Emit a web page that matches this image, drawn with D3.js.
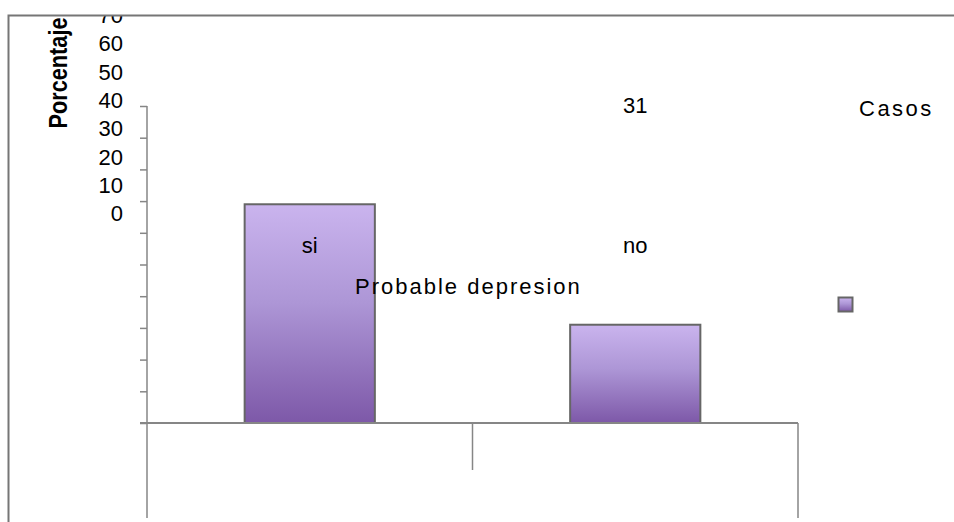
<!DOCTYPE html>
<html>
<head>
<meta charset="utf-8">
<script src="https://cdn.jsdelivr.net/npm/d3@7/dist/d3.min.js"></script>
<style>
  html, body { margin: 0; padding: 0; background: #fff; }
  svg { display: block; }
  text { font-family: Arial, "Liberation Sans", sans-serif; fill: #000; }
</style>
</head>
<body>
<svg id="chart" width="954" height="522"></svg>
<script>
// Chart data
const categories = ["si", "no"];
const casos = [69, 31];
const seriesName = "Casos";
const axisTitle = "Porcentaje";
const xTitle = "Probable depresion";
const tickLabels = [0, 10, 20, 30, 40, 50, 60, 70];
const axisTicks = [0, 10, 20, 30, 40, 50, 60, 70, 80, 90, 100];

const svg = d3.select("#chart");
const W = 954, H = 522;

// Frame clip: everything sits inside the chart frame
const defs = svg.append("defs");
defs.append("clipPath").attr("id", "frameClip")
  .append("rect").attr("x", 9).attr("y", 16).attr("width", W).attr("height", H);

const grad = defs.append("linearGradient")
  .attr("id", "barGrad").attr("x1", 0).attr("y1", 0).attr("x2", 0).attr("y2", 1);
grad.append("stop").attr("offset", "0%").attr("stop-color", "#cab4ee");
grad.append("stop").attr("offset", "45%").attr("stop-color", "#ad96d6");
grad.append("stop").attr("offset", "100%").attr("stop-color", "#7d58a8");

const g = svg.append("g").attr("clip-path", "url(#frameClip)");

// Scales
const plotLeft = 147, plotRight = 798, baseY = 423, topY = 106;
const x = d3.scaleBand().domain(categories).range([plotLeft, plotRight])
  .paddingInner(0.6).paddingOuter(0.3);
const xCat = d3.scaleBand().domain(categories).range([plotLeft, plotRight]);
const y = d3.scaleLinear().domain([0, 100]).range([baseY, topY]);
const labelY = d3.scaleLinear().domain([0, 70]).range([213.5, 15]);

// Outer frame
svg.append("path")
  .attr("d", `M8.5,${H} V15.5 H${W}`)
  .attr("fill", "none").attr("stroke", "#767676").attr("stroke-width", 2);

// Value axis (tick marks)
const yAxis = d3.axisLeft(y).tickValues(axisTicks).tickSize(7).tickFormat("");
const ya = g.append("g").attr("transform", `translate(${plotLeft},0)`).call(yAxis);
ya.select(".domain").remove();
ya.selectAll(".tick line").attr("stroke", "#868686").attr("stroke-width", 1.5);
g.append("line").attr("x1", plotLeft).attr("x2", plotLeft)
  .attr("y1", y(100)).attr("y2", 518)
  .attr("stroke", "#868686").attr("stroke-width", 1.5);

// Tick labels
g.selectAll("text.ylab").data(tickLabels).join("text")
  .attr("class", "ylab")
  .attr("x", 123).attr("y", d => labelY(d))
  .attr("dy", "0.36em").attr("text-anchor", "end")
  .attr("font-size", 22).text(d => d);

// Axis title
g.append("text")
  .attr("transform", "translate(67,73) rotate(-90)")
  .attr("text-anchor", "middle")
  .attr("font-family", "'Liberation Sans Narrow', 'Arial Narrow', Arial, sans-serif")
  .attr("font-weight", "bold").attr("font-size", 25)
  .attr("textLength", 111).attr("lengthAdjust", "spacingAndGlyphs")
  .text(axisTitle);

// Bars
g.selectAll("rect.bar").data(categories).join("rect")
  .attr("class", "bar")
  .attr("x", d => x(d)).attr("width", x.bandwidth())
  .attr("y", (d, i) => y(casos[i]))
  .attr("height", (d, i) => y(0) - y(casos[i]))
  .attr("fill", "url(#barGrad)")
  .attr("stroke", "#666").attr("stroke-width", 2);

// Category axis
g.append("line").attr("x1", 140).attr("x2", plotRight)
  .attr("y1", baseY).attr("y2", baseY)
  .attr("stroke", "#868686").attr("stroke-width", 2);
const catEdges = [xCat.range()[0], xCat(categories[1]), xCat.range()[1]];
g.selectAll("line.cattick").data(catEdges.slice(1)).join("line")
  .attr("class", "cattick")
  .attr("x1", d => d).attr("x2", d => d)
  .attr("y1", baseY).attr("y2", (d, i) => i === 0 ? 470 : 518)
  .attr("stroke", "#868686").attr("stroke-width", 1.5);

// Category labels
g.selectAll("text.cat").data(categories).join("text")
  .attr("class", "cat")
  .attr("x", d => x(d) + x.bandwidth() / 2).attr("y", 245)
  .attr("dy", "0.36em").attr("text-anchor", "middle")
  .attr("font-size", 22).text(d => d);

// Axis title (category)
g.append("text")
  .attr("x", 355).attr("y", 294)
  .attr("font-size", 22).attr("letter-spacing", 2)
  .text(xTitle);

// Data label for "no"
g.append("text")
  .attr("x", x("no") + x.bandwidth() / 2).attr("y", 105)
  .attr("dy", "0.36em").attr("text-anchor", "middle")
  .attr("font-size", 22).text(casos[1]);

// Legend
g.append("text")
  .attr("x", 859).attr("y", 108).attr("dy", "0.36em")
  .attr("font-size", 22).attr("letter-spacing", 2.5)
  .text(seriesName);
g.append("rect")
  .attr("x", 838.5).attr("y", 297.5).attr("width", 14).attr("height", 14)
  .attr("fill", "url(#barGrad)").attr("stroke", "#666").attr("stroke-width", 2);
</script>
</body>
</html>
